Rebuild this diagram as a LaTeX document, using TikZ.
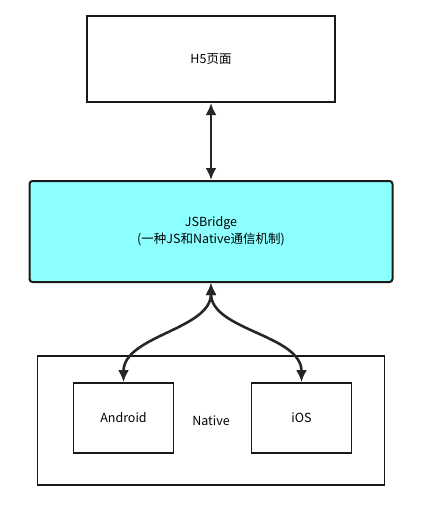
\documentclass[tikz,border=0pt]{standalone}
\usepackage{fontspec}
\setmainfont{Noto Sans CJK SC}
\usepackage{tikz}
\usetikzlibrary{positioning, arrows.meta}
\definecolor{bridgecyan}{RGB}{140,255,255}
\tikzstyle{page} = [rectangle, minimum width=248pt, minimum height=86pt, text centered, draw=black!90, line width=2pt]
\tikzstyle{bridge} = [rectangle, rounded corners=3pt, minimum width=363pt, minimum height=101pt, align=center, draw=black!90, line width=2pt, fill=bridgecyan]
\tikzstyle{platform} = [rectangle, minimum width=100pt, minimum height=70pt, text centered, draw=black!90, line width=1.8pt]
\tikzstyle{link} = [line width=2.6pt, draw=black!85, {Latex[length=12pt,width=11pt]}-{Latex[length=12pt,width=11pt]}]

\begin{document}
\begin{tikzpicture}[x=1pt, y=1pt, font=\fontsize{12.5}{17}\selectfont]
        \useasboundingbox (0,0) rectangle (422,-506);
        \node (h5) [page] at (211,-59) {H5页面};
        \node (bridge) [bridge, below of=h5, node distance=172.5pt] {JSBridge\\(一种JS和Native通信机制)};
        \node (native) [page, below of=bridge, node distance=189pt, minimum width=347pt, minimum height=129pt, line width=1.8pt] {Native};
        \node (android) [platform, left of=native, node distance=87.5pt, yshift=2.5pt] {Android};
        \node (ios) [platform, right of=native, node distance=90.5pt, yshift=2.5pt] {iOS};

        \draw [link] (h5) -- (bridge);
        \draw [link] (bridge.south) to[out=-90, in=90, looseness=0.9] (android.north);
        \draw [link] (bridge.south) to[out=-90, in=90, looseness=0.9] (ios.north);

        \end{tikzpicture}
\end{document}
